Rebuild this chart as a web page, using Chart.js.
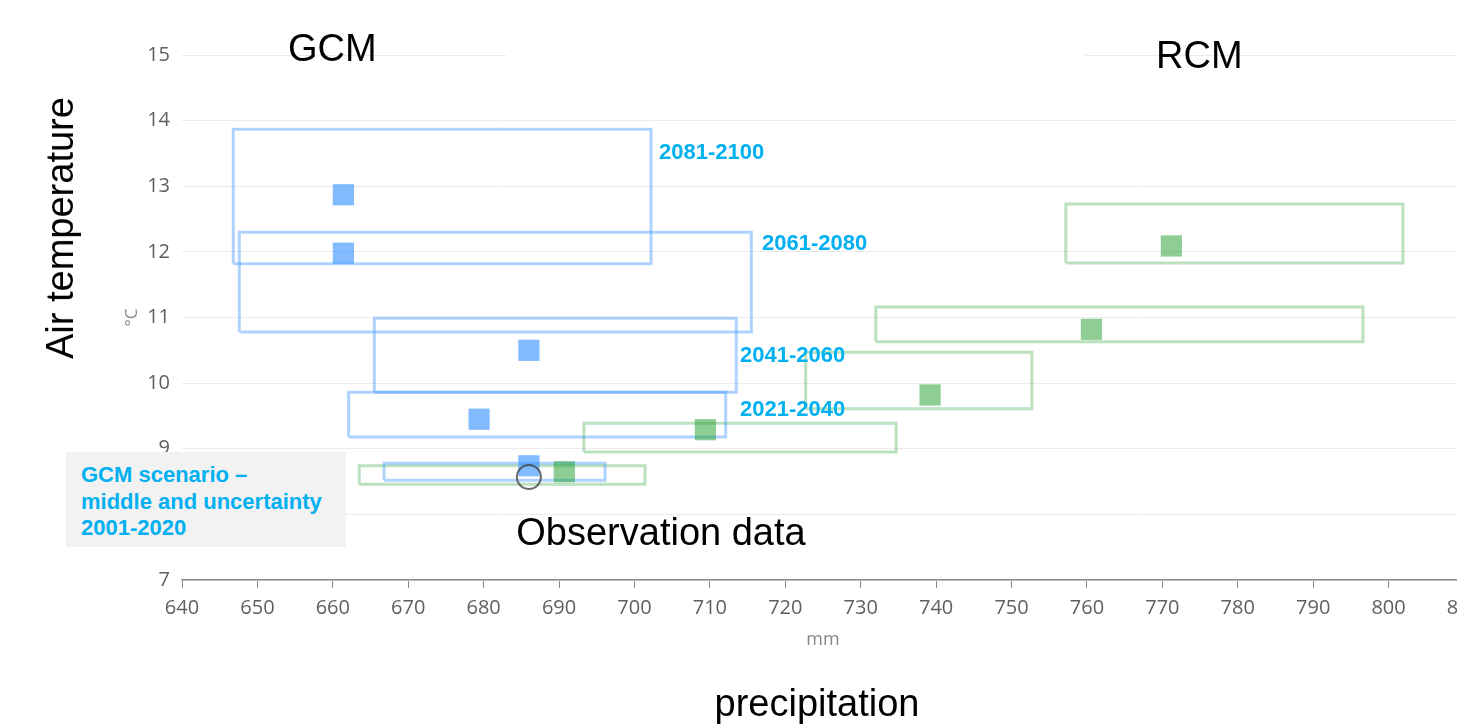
<!DOCTYPE html>
<html>
<head>
<meta charset="utf-8">
<script src="https://cdn.jsdelivr.net/npm/chart.js@4.4.1/dist/chart.umd.min.js"></script>
<style>
  body { margin: 0; width: 1457px; height: 728px; overflow: hidden; background: #fff; }
  #wrap { position: relative; width: 1500px; height: 728px; }
  .big { position: absolute; font-family: "Liberation Sans", Arial, sans-serif; font-size: 38px; color: #000; white-space: nowrap; line-height: 1; }
  .period { position: absolute; font-family: "Liberation Sans", Arial, sans-serif; font-weight: bold; font-size: 22px; color: #00b0f0; white-space: nowrap; line-height: 1; transform: translateY(-50%); }
  #scenario { position: absolute; left: 66px; top: 452px; width: 280px; height: 95px; background: #f2f2f2; box-sizing: border-box; padding: 10px 0 0 15px; font-family: "Liberation Sans", Arial, sans-serif; font-weight: bold; font-size: 22px; line-height: 26.5px; color: #00b0f0; }
</style>
</head>
<body>
<div id="wrap">
  <canvas id="chart" width="1500" height="728"></canvas>
  <div style="position:absolute;left:506px;top:51px;width:579px;height:8px;background:#fff;"></div>
  <div class="big" style="left:288px;top:29px;">GCM</div>
  <div class="big" style="left:1156px;top:36px;">RCM</div>
  <div class="big" style="left:60px;top:228px;transform:translate(-50%,-50%) rotate(-90deg);">Air temperature</div>
  <div class="big" style="left:817px;top:703px;transform:translate(-50%,-50%);">precipitation</div>
  <div class="big" style="left:661px;top:532px;transform:translate(-50%,-50%);">Observation data</div>
  <div class="period" style="left:659px;top:152px;">2081-2100</div>
  <div class="period" style="left:762px;top:243px;">2061-2080</div>
  <div class="period" style="left:740px;top:355px;">2041-2060</div>
  <div class="period" style="left:740px;top:409px;">2021-2040</div>
  <div id="scenario">GCM scenario –<br>middle and uncertainty<br>2001-2020</div>
</div>
<script>
// periods, index 0 = 2001-2020 ... 4 = 2081-2100
const periods = ['2001-2020', '2021-2040', '2041-2060', '2061-2080', '2081-2100'];

// GCM: middle point and uncertainty range
const gcmPrecip = [686.0, 679.4, 686.0, 661.4, 661.4];
const gcmTemp = [8.74, 9.45, 10.50, 11.98, 12.87];
const gcmPrecipMin = [666.8, 662.1, 665.5, 647.6, 646.8];
const gcmPrecipMax = [696.1, 712.1, 713.5, 715.5, 702.2];
const gcmTempMin = [8.52, 9.18, 9.86, 10.78, 11.82];
const gcmTempMax = [8.78, 9.86, 10.99, 12.30, 13.87];

// RCM: middle point and uncertainty range
const rcmPrecip = [690.7, 709.4, 739.2, 760.6, 771.2];
const rcmTemp = [8.65, 9.29, 9.82, 10.82, 12.09];
const rcmPrecipMin = [663.5, 693.3, 722.7, 732.0, 757.2];
const rcmPrecipMax = [701.4, 734.7, 752.7, 796.6, 801.9];
const rcmTempMin = [8.46, 8.95, 9.61, 10.63, 11.83];
const rcmTempMax = [8.74, 9.39, 10.47, 11.16, 12.73];

// observation 2001-2020
const obsPrecip = [686.0];
const obsTemp = [8.57];

const xTicks = {min: 640, max: 810, step: 10};
const yTicks = {min: 7, max: 15, step: 1};

const blueFill = 'rgba(54,145,255,0.62)';
const blueLine = 'rgba(54,145,255,0.4)';
const greenFill = 'rgba(30,155,40,0.5)';
const greenLine = 'rgba(30,155,40,0.3)';

function boxDataset(xmin, xmax, ymin, ymax, i, color) {
  return {
    type: 'scatter',
    label: periods[i],
    data: [
      {x: xmin[i], y: ymin[i]},
      {x: xmax[i], y: ymin[i]},
      {x: xmax[i], y: ymax[i]},
      {x: xmin[i], y: ymax[i]},
      {x: xmin[i], y: ymin[i]},
    ],
    showLine: true,
    fill: false,
    borderColor: color,
    borderWidth: 3,
    borderJoinStyle: 'miter',
    pointRadius: 0,
    order: 3,
  };
}

const datasets = [];
datasets.push({
  label: 'Observation',
  data: obsPrecip.map((p, i) => ({x: p, y: obsTemp[i]})),
  pointStyle: 'circle',
  pointRadius: 12,
  backgroundColor: 'rgba(0,0,0,0)',
  borderColor: 'rgba(70,70,70,0.8)',
  borderWidth: 2,
  order: 0,
});
datasets.push({
  label: 'GCM',
  data: gcmPrecip.map((p, i) => ({x: p, y: gcmTemp[i]})),
  pointStyle: 'rect',
  pointRadius: 15,
  backgroundColor: blueFill,
  borderWidth: 0,
  order: 1,
});
datasets.push({
  label: 'RCM',
  data: rcmPrecip.map((p, i) => ({x: p, y: rcmTemp[i]})),
  pointStyle: 'rect',
  pointRadius: 15,
  backgroundColor: greenFill,
  borderWidth: 0,
  order: 1,
});
for (let i = 0; i < periods.length; i++) {
  datasets.push(boxDataset(gcmPrecipMin, gcmPrecipMax, gcmTempMin, gcmTempMax, i, blueLine));
  datasets.push(boxDataset(rcmPrecipMin, rcmPrecipMax, rcmTempMin, rcmTempMax, i, greenLine));
}

const tickFont = {family: '"Open Sans", sans-serif', size: 20};

new Chart(document.getElementById('chart').getContext('2d'), {
  type: 'scatter',
  data: {datasets: datasets},
  options: {
    responsive: false,
    animation: false,
    layout: {padding: {left: 118, right: 36, top: 55, bottom: 73}},
    plugins: {
      legend: {display: false},
      tooltip: {enabled: false},
    },
    scales: {
      x: {
        type: 'linear',
        min: xTicks.min,
        max: xTicks.max,
        ticks: {stepSize: xTicks.step, color: '#5f5f5f', font: tickFont, padding: 8, maxRotation: 0},
        grid: {drawOnChartArea: false, drawTicks: true, tickLength: 8, color: '#8a8a8a'},
        border: {display: true, color: '#8a8a8a', width: 1.5},
        title: {display: true, text: 'mm', color: '#888', font: {family: '"Open Sans", sans-serif', size: 18}},
        afterFit: (scale) => { scale.height = 75; },
      },
      y: {
        type: 'linear',
        min: yTicks.min,
        max: yTicks.max,
        ticks: {stepSize: yTicks.step, color: '#5f5f5f', font: tickFont, padding: 12},
        grid: {drawTicks: false, color: '#ebebeb', lineWidth: 1},
        border: {display: false},
        title: {display: true, text: '°C', color: '#888', font: {family: '"Open Sans", sans-serif', size: 17}},
        afterFit: (scale) => { scale.width = 64; },
      },
    },
  },
});
</script>
</body>
</html>
